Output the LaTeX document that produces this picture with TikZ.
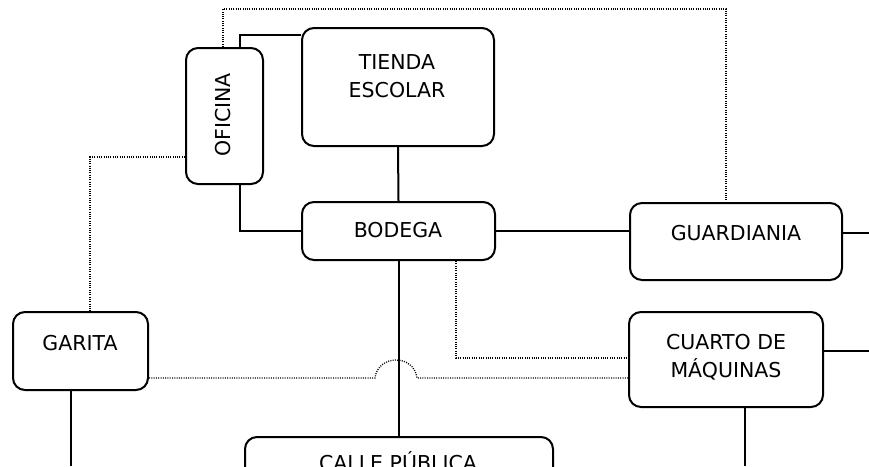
\documentclass[tikz,border=0pt]{standalone}
\usepackage{fontspec}
\setmainfont{DejaVu Sans}
\usetikzlibrary{calc}

\begin{document}
\begin{tikzpicture}[x=1pt, y=-1pt,
  box/.style={draw, line width=2pt, rounded corners=12pt, inner sep=0pt},
  lbl/.style={font=\fontsize{20.5}{28}\selectfont, align=center, inner sep=0pt},
  link/.style={line width=2pt},
  dots/.style={line width=1.3pt, dash pattern=on 1pt off 1.3pt}]
  \clip (0,0) rectangle (869,466);

  % Ambientes
  \node[box, minimum width=77pt, minimum height=136pt] (oficina) at (224.5,116) {};
  \node[lbl, rotate=90] (oficinatxt) at (223,115) {OFICINA};
  \node[box, minimum width=192pt, minimum height=118pt] (tienda) at (398,87) {};
  \node[lbl] (tiendatxt) at (397,76.5) {TIENDA\\ESCOLAR};
  \node[box, minimum width=193pt, minimum height=58pt] (bodega) at (398.5,231) {};
  \node[lbl] (bodegatxt) at (398,230) {BODEGA};
  \node[box, minimum width=212pt, minimum height=77pt] (guard) at (736,241.5) {};
  \node[lbl] (guardtxt) at (736,233) {GUARDIANIA};
  \node[box, minimum width=135pt, minimum height=78pt] (garita) at (80.5,351) {};
  \node[lbl] (garitatxt) at (80,343) {GARITA};
  \node[box, minimum width=194pt, minimum height=95pt] (cuarto) at (726,359.5) {};
  \node[lbl] (cuartotxt) at (726,357.5) {CUARTO DE\\MÁQUINAS};
  \node[box, minimum width=308pt, minimum height=80pt] (calle) at (399,477) {};
  \node[lbl, anchor=base] (calletxt) at (398,470.5) {CALLE PÚBLICA};

  % Conexiones continuas
  \draw[link] ([xshift=15.5pt]oficina.north) |- ([yshift=-8pt]tienda.north west);
  \draw[link] ([xshift=15.5pt]oficina.south) |- (bodega.west);
  \draw[link] (tienda.south) -- (bodega.north);
  \draw[link] (bodega.east) -- (bodega.east -| guard.west);
  \draw[link] (bodega.south) -- (bodega.south |- calle.north);
  \coordinate (guardfin) at (869,233);
  \draw[link] (guardfin -| guard.east) -- (guardfin);
  \coordinate (cuartofin) at (869,351);
  \draw[link] (cuartofin -| cuarto.east) -- (cuartofin);
  \coordinate (cuartobajo) at (745,466);
  \draw[link] (cuartobajo |- cuarto.south) -- (cuartobajo);
  \coordinate (garitabajo) at (71,466);
  \draw[link] (garitabajo |- garita.south) -- (garitabajo);

  % Conexiones punteadas
  \coordinate (arriba) at (726,9);
  \draw[dots] ([xshift=-1.5pt]oficina.north) |- (arriba) -- (arriba |- guard.north);
  \coordinate (codo) at (90,157);
  \draw[dots] (codo -| oficina.west) -- (codo) -- (codo |- garita.north);
  \coordinate (bajada) at (456,358);
  \draw[dots] (bajada |- bodega.south) -- (bajada) -- (bajada -| cuarto.west);
  % garita - cuarto, con salto sobre la linea de bodega
  \coordinate (salto) at (375,378);
  \coordinate (caida) at (417,378);
  \draw[dots] (salto -| garita.east) -- (salto)
    .. controls +(3,-24) and +(-3,-24) .. (caida) -- (caida -| cuarto.west);
\end{tikzpicture}
\end{document}
